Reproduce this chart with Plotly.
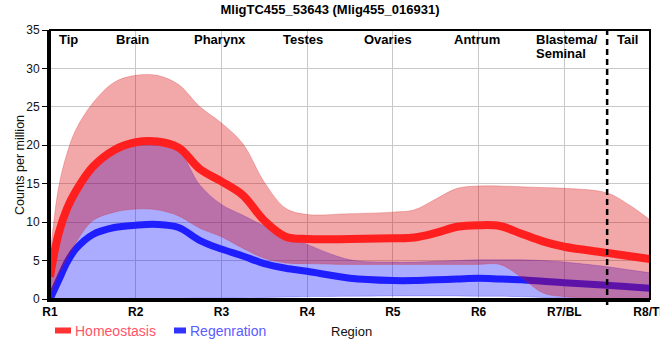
import plotly.graph_objects as go

# ---------------- data ----------------
POS = [1, 1.1, 1.2, 1.3, 1.5, 1.75, 2, 2.25, 2.5, 2.75, 3, 3.25, 3.5, 3.75, 4,
       4.5, 5, 5.25, 5.5, 5.75, 6, 6.25, 6.5, 6.75, 7, 7.5, 7.75, 8]

HOM_MEAN = [2.9, 8.5, 11.8, 14.0, 17.2, 19.4, 20.4, 20.5, 19.7, 16.9, 15.3, 13.5, 10.2, 8.1, 7.8,
            7.8, 7.9, 8.0, 8.6, 9.4, 9.6, 9.5, 8.5, 7.5, 6.8, 6.0, 5.6, 5.2]
HOM_HI = [5.5, 14.5, 19.0, 22.0, 25.5, 28.2, 29.1, 29.1, 27.9, 25.0, 22.9, 20.2, 15.2, 11.8, 11.0,
          11.1, 11.3, 11.6, 13.0, 14.4, 14.7, 14.7, 14.6, 14.5, 14.4, 13.8, 12.3, 10.3]
HOM_LO = [0.5, 3.2, 5.3, 7.3, 10.2, 11.3, 11.7, 11.6, 10.8, 9.2, 8.1, 6.6, 5.3, 4.7, 4.6,
          4.5, 4.5, 4.5, 4.5, 4.5, 4.5, 4.5, 2.8, 0.8, 0.3, 0.2, 0.2, 0.2]

REG_MEAN = [0.0, 2.4, 4.8, 6.5, 8.4, 9.3, 9.6, 9.7, 9.3, 7.6, 6.5, 5.6, 4.6, 4.0, 3.6,
            2.7, 2.4, 2.4, 2.5, 2.6, 2.7, 2.6, 2.5, 2.3, 2.1, 1.8, 1.6, 1.4]
REG_HI = [1.5, 7.8, 11.2, 13.5, 16.7, 18.9, 20.0, 20.0, 19.2, 14.8, 12.3, 10.9, 9.5, 8.3, 7.1,
          5.1, 4.8, 4.8, 4.9, 5.0, 5.1, 5.1, 5.1, 5.0, 4.8, 4.2, 3.8, 3.4]
REG_LO = [0.0, 0.0, 0.0, 0.0, 0.0, 0.0, 0.0, 0.0, 0.05, 0.1, 0.1, 0.15, 0.2, 0.25, 0.3,
          0.35, 0.4, 0.4, 0.4, 0.4, 0.35, 0.35, 0.3, 0.2, 0.1, 0.05, 0.0, 0.0]

TICK_VALS = [1, 2, 3, 4, 5, 6, 7, 8]
TICK_TEXT = ["R1", "R2", "R3", "R4", "R5", "R6", "R7/BL", "R8/TL"]

REGION_LABELS = ["Tip", "Brain", "Pharynx", "Testes", "Ovaries", "Antrum", "Tail"]
REGION_POS = [1.216, 1.968, 2.989, 3.952, 4.938, 5.976, 7.732]
BLASTEMA_LINES = ["Blastema/", "Seminal"]
BLASTEMA_POS = 6.647
TAIL_BOUNDARY = 7.5

TITLE = "MligTC455_53643 (Mlig455_016931)"
SERIES = ["Homeostasis", "Regenration"]

# ---------------- figure ----------------
W, H = 660, 360
L, R, T, B = 50, 10, 30, 61
PW, PH = W - L - R, H - T - B


def px(xp):
    return (xp - L) / PW


def py(yp):
    return (H - B - yp) / PH


ARIAL = "Liberation Sans, Arial, sans-serif"

fig = go.Figure()

# Regeneration band
fig.add_trace(go.Scatter(x=POS, y=REG_LO, mode="lines", line=dict(color="rgba(40,40,255,0.35)", width=0.8, shape="spline"),
                         showlegend=False, hoverinfo="skip"))
fig.add_trace(go.Scatter(x=POS, y=REG_HI, mode="lines", fill="tonexty", fillcolor="rgba(0,0,255,0.33)",
                         line=dict(color="rgba(40,40,255,0.35)", width=0.8, shape="spline"),
                         showlegend=False, hoverinfo="skip"))
fig.add_trace(go.Scatter(x=POS, y=REG_MEAN, mode="lines", line=dict(color="#1e1eff", width=7, shape="spline"),
                         showlegend=False))

# Homeostasis band
fig.add_trace(go.Scatter(x=POS, y=HOM_LO, mode="lines", line=dict(color="rgba(210,40,40,0.35)", width=0.8, shape="spline"),
                         showlegend=False, hoverinfo="skip"))
fig.add_trace(go.Scatter(x=POS, y=HOM_HI, mode="lines", fill="tonexty", fillcolor="rgba(217,0,0,0.34)",
                         line=dict(color="rgba(210,40,40,0.35)", width=0.8, shape="spline"),
                         showlegend=False, hoverinfo="skip"))
fig.add_trace(go.Scatter(x=POS, y=HOM_MEAN, mode="lines", line=dict(color="#ff1f1f", width=8, shape="spline"),
                         showlegend=False))

annotations = []
for lab, xpos in zip(REGION_LABELS, REGION_POS):
    annotations.append(dict(x=xpos, y=py(39), xref="x", yref="paper", text="<b>%s</b>" % lab,
                            showarrow=False, xanchor="center", yanchor="middle",
                            font=dict(family=ARIAL, size=13, color="#000000")))
for i, line in enumerate(BLASTEMA_LINES):
    annotations.append(dict(x=BLASTEMA_POS, y=py(39 + 15 * i), xref="x", yref="paper", text="<b>%s</b>" % line,
                            showarrow=False, xanchor="left", yanchor="middle",
                            font=dict(family=ARIAL, size=13, color="#000000")))

# axis titles
annotations.append(dict(x=px(351), y=py(331), xref="paper", yref="paper", text="Region", showarrow=False,
                        xanchor="center", yanchor="middle", font=dict(family=ARIAL, size=13, color="#111111")))
annotations.append(dict(x=px(20), y=py(165), xref="paper", yref="paper", text="Counts per million", showarrow=False,
                        textangle=-90, xanchor="center", yanchor="middle",
                        font=dict(family=ARIAL, size=12.5, color="#111111")))

# legend text
annotations.append(dict(x=px(73), y=py(331), xref="paper", yref="paper", text=SERIES[0], showarrow=False,
                        xanchor="left", yanchor="middle", font=dict(family=ARIAL, size=14, color="#ff5468")))
annotations.append(dict(x=px(188), y=py(331), xref="paper", yref="paper", text=SERIES[1], showarrow=False,
                        xanchor="left", yanchor="middle", font=dict(family=ARIAL, size=14, color="#5b5bff")))

shapes = [
    # dashed tail boundary
    dict(type="line", xref="x", yref="paper", x0=TAIL_BOUNDARY, x1=TAIL_BOUNDARY, y0=py(305), y1=1,
         line=dict(color="black", width=2.5, dash="6px,4px"), layer="above"),
    # frame
    dict(type="rect", xref="paper", yref="paper", x0=0, x1=1, y0=0, y1=1,
         line=dict(color="black", width=2), layer="above"),
    # legend swatches
    dict(type="rect", xref="paper", yref="paper", x0=px(55), x1=px(71), y0=py(333.5), y1=py(327.5),
         line=dict(width=0), fillcolor="#ff3333", layer="above"),
    dict(type="rect", xref="paper", yref="paper", x0=px(174), x1=px(186), y0=py(333.5), y1=py(327.5),
         line=dict(width=0), fillcolor="#3333ff", layer="above"),
]

fig.update_layout(
    width=W, height=H,
    margin=dict(l=L, r=R, t=T, b=B, autoexpand=False),
    paper_bgcolor="white", plot_bgcolor="white",
    title=dict(text="<b>%s</b>" % TITLE, x=0.5, xanchor="center", y=1 - 9 / H, yanchor="middle",
               font=dict(family=ARIAL, size=13, color="#000000")),
    showlegend=False,
    annotations=annotations,
    shapes=shapes,
)

fig.update_xaxes(range=[1, 8], tickvals=TICK_VALS, ticktext=["<b>%s</b>" % t for t in TICK_TEXT],
                 showgrid=True, gridcolor="#c8c8c8", gridwidth=1, zeroline=False,
                 showline=True, linecolor="black", linewidth=3, ticks="",
                 ticklabeloverflow="allow",
                 tickfont=dict(family=ARIAL, size=12, color="#000000"))
fig.update_yaxes(range=[0, 35], dtick=5, tick0=0,
                 showgrid=True, gridcolor="#c8c8c8", gridwidth=1, zeroline=False,
                 showline=True, linecolor="black", linewidth=3, ticks="outside", ticklen=5,
                 tickcolor="black", tickwidth=1,
                 tickfont=dict(family=ARIAL, size=12, color="#111111"))

fig.write_html("out.html", config={"displayModeBar": False},
               post_script="document.body.style.margin='0';document.body.style.overflow='hidden';")
